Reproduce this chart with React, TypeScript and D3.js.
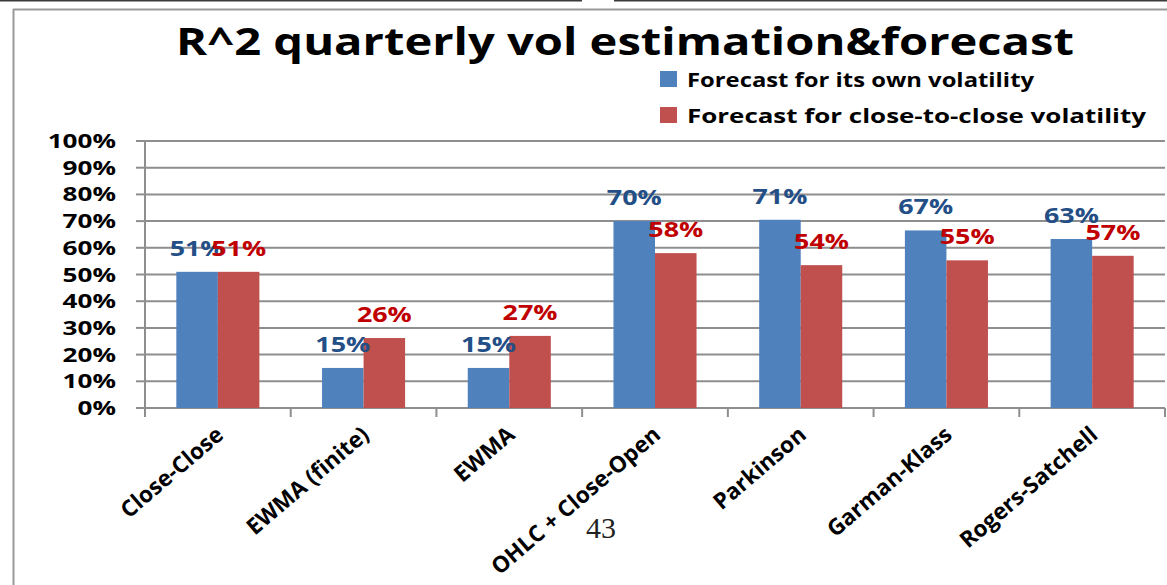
import React from "react";
import * as d3 from "d3";

const categories = ["Close-Close", "EWMA (finite)", "EWMA", "OHLC + Close-Open", "Parkinson", "Garman-Klass", "Rogers-Satchell"];
const ownVol = [0.51, 0.15, 0.15, 0.70, 0.705, 0.665, 0.633];
const c2cVol = [0.51, 0.262, 0.27, 0.58, 0.535, 0.553, 0.57];
const ownLabels = ["51%", "15%", "15%", "70%", "71%", "67%", "63%"];
const c2cLabels = ["51%", "26%", "27%", "58%", "54%", "55%", "57%"];
const yTicks = [0, 0.1, 0.2, 0.3, 0.4, 0.5, 0.6, 0.7, 0.8, 0.9, 1.0];
const seriesNames = ["Forecast for its own volatility", "Forecast for close-to-close volatility"];
const title = "R^2 quarterly vol estimation&forecast";
const pageNumber = "43";

const W = 1167;
const H = 585;
const FONT = "'Open Sans', 'DejaVu Sans', sans-serif";
const BLUE = "#4F81BD";
const RED = "#C0504D";
const BLUE_TXT = "#234E86";
const RED_TXT = "#C00000";
const GRID = "#8E8E8E";

function STxt({ x, y, sx = 1, size, anchor = "start", fill = "#000", len, children }: any) {
  return (
    <text
      transform={`translate(${x},${y}) scale(${sx},1)`}
      textAnchor={anchor}
      fontFamily={FONT}
      fontWeight={700}
      fontSize={size}
      fill={fill}
      textLength={len}
      lengthAdjust={len ? "spacingAndGlyphs" : undefined}
    >
      {children}
    </text>
  );
}

export default function App() {
  const x0 = d3.scaleBand<string>().domain(categories).range([145, 1165]).paddingInner(0.43).paddingOuter(0.215);
  const x1 = d3.scaleBand<number>().domain([0, 1]).range([0, x0.bandwidth()]);
  const y = d3.scaleLinear().domain([0, 1]).range([408, 141]);
  const step = x0.step();
  const boundaries = d3.range(categories.length + 1).map((i) => 145 + i * step);
  const fmt = d3.format(".0%");
  const legendLens = [347, 459];

  return (
    <div style={{ position: "absolute", left: 0, top: 0 }}>
      <svg width={W} height={H} style={{ display: "block", background: "#fff" }}>
        {/* slide frame */}
        <line x1={0} x2={582} y1={0.75} y2={0.75} stroke="#3a3a3a" strokeWidth={1.5} />
        <line x1={614} x2={W} y1={0.75} y2={0.75} stroke="#3a3a3a" strokeWidth={1.5} />
        <line x1={13} x2={W} y1={9.5} y2={9.5} stroke="#9a9a9a" strokeWidth={2} />
        <line x1={13.5} x2={13.5} y1={9} y2={H} stroke="#9a9a9a" strokeWidth={2} />

        {/* title */}
        <STxt x={625} y={55} size={38} sx={1.24} anchor="middle">{title}</STxt>

        {/* legend */}
        {seriesNames.map((name, i) => (
          <g key={name}>
            <rect x={660} y={71 + i * 36} width={17} height={16} fill={i === 0 ? BLUE : RED} />
            <STxt x={687} y={87 + i * 36} size={19.5} len={legendLens[i]}>{name}</STxt>
          </g>
        ))}

        {/* gridlines */}
        {yTicks.map((t) => (
          <g key={t}>
            {t > 0 && <line x1={145} x2={1165} y1={y(t)} y2={y(t)} stroke={GRID} strokeWidth={2} />}
            <line x1={136} x2={145} y1={y(t)} y2={y(t)} stroke={GRID} strokeWidth={2} />
            <STxt x={116} y={y(t) + 7} size={19.5} sx={1.34} anchor="end">{fmt(t)}</STxt>
          </g>
        ))}

        {/* axes */}
        <line x1={145} x2={145} y1={141} y2={417} stroke={GRID} strokeWidth={2} />
        <line x1={136} x2={1165} y1={408} y2={408} stroke={GRID} strokeWidth={2} />
        {boundaries.map((b, i) => (
          <line key={i} x1={b} x2={b} y1={408} y2={417} stroke={GRID} strokeWidth={2} />
        ))}

        {/* bars */}
        {categories.map((c, i) => {
          const vals = [ownVol[i], c2cVol[i]];
          return (
            <g key={c} transform={`translate(${x0(c)},0)`}>
              {vals.map((v, j) => (
                <rect key={j} x={x1(j)} y={y(v)} width={x1.bandwidth()} height={y(0) - y(v)} fill={j === 0 ? BLUE : RED} />
              ))}
            </g>
          );
        })}

        {/* data labels */}
        {categories.map((c, i) => {
          const vals = [ownVol[i], c2cVol[i]];
          const labs = [ownLabels[i], c2cLabels[i]];
          return (
            <g key={c}>
              {vals.map((v, j) => (
                <STxt key={j} x={(x0(c) as number) + (x1(j) as number) + x1.bandwidth() / 2} y={y(v) - 16} size={21} sx={1.28} anchor="middle" fill={j === 0 ? BLUE_TXT : RED_TXT}>
                  {labs[j]}
                </STxt>
              ))}
            </g>
          );
        })}

        {/* category labels */}
        {categories.map((c) => {
          const cx = (x0(c) as number) + x0.bandwidth() / 2;
          return (
            <text
              key={c}
              transform={`translate(${cx + 7},${437}) rotate(-40.5)`}
              textAnchor="end"
              fontFamily={FONT}
              fontWeight={700}
              fontSize={22.5}
              fill="#000"
            >
              {c}
            </text>
          );
        })}

        {/* page number */}
        <text x={601} y={538} textAnchor="middle" fontFamily="'Liberation Serif', serif" fontSize={30} fill="#222">
          {pageNumber}
        </text>
      </svg>
    </div>
  );
}
